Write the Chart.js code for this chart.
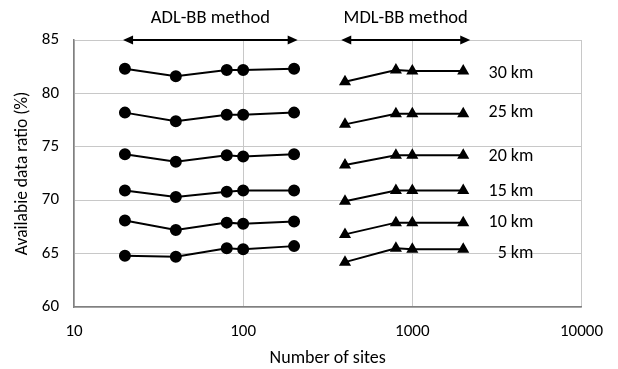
<!DOCTYPE html>
<html>
<head>
<meta charset="utf-8">
<script src="https://cdn.jsdelivr.net/npm/chart.js@4/dist/chart.umd.min.js"></script>
<style>
  html, body { margin: 0; padding: 0; background: #fff; }
  #wrap { width: 618px; height: 369px; position: relative; }
</style>
</head>
<body>
<div id="wrap"><canvas id="c" width="618" height="369"></canvas></div>
<script>
// ---- data ----
const sitesADL = [20, 40, 80, 100, 200];
const sitesMDL = [400, 800, 1000, 2000];
const distanceLabels = ['5 km', '10 km', '15 km', '20 km', '25 km', '30 km'];

const adl5  = [64.8, 64.7, 65.5, 65.4, 65.7];
const adl10 = [68.1, 67.2, 67.9, 67.8, 68.0];
const adl15 = [70.9, 70.3, 70.8, 70.9, 70.9];
const adl20 = [74.3, 73.6, 74.2, 74.1, 74.3];
const adl25 = [78.2, 77.4, 78.0, 78.0, 78.2];
const adl30 = [82.3, 81.6, 82.2, 82.2, 82.3];

const mdl5  = [64.2, 65.5, 65.4, 65.4];
const mdl10 = [66.8, 67.9, 67.9, 67.9];
const mdl15 = [69.9, 70.9, 70.9, 70.9];
const mdl20 = [73.3, 74.2, 74.2, 74.2];
const mdl25 = [77.1, 78.1, 78.1, 78.1];
const mdl30 = [81.1, 82.2, 82.1, 82.1];

const xTicks = [10, 100, 1000, 10000];
const methodLabels = ['ADL-BB method', 'MDL-BB method'];

const adlSeries = [adl5, adl10, adl15, adl20, adl25, adl30];
const mdlSeries = [mdl5, mdl10, mdl15, mdl20, mdl25, mdl30];

const FONT = '"Carlito", "Lato", "Open Sans", sans-serif';

function toPts(xs, ys) { return xs.map((x, i) => ({ x: x, y: ys[i] })); }

const datasets = [];
adlSeries.forEach((s, i) => datasets.push({
  label: 'ADL ' + distanceLabels[i], data: toPts(sitesADL, s),
  showLine: true, borderColor: '#000', backgroundColor: '#000', borderWidth: 2,
  pointStyle: 'circle', pointRadius: 5, pointHoverRadius: 5
}));
mdlSeries.forEach((s, i) => datasets.push({
  label: 'MDL ' + distanceLabels[i], data: toPts(sitesMDL, s),
  showLine: true, borderColor: '#000', backgroundColor: '#000', borderWidth: 2,
  pointStyle: 'triangle', pointRadius: 5, pointHoverRadius: 5
}));

const annot = {
  id: 'annot',
  afterDatasetsDraw(chart) {
    const ctx = chart.ctx;
    const xs = chart.scales.x, ys = chart.scales.y;
    ctx.save();
    // arrows with method labels
    const arrows = [[19.5, 210, methodLabels[0]], [380, 2200, methodLabels[1]]];
    const yA = ys.getPixelForValue(85);
    arrows.forEach(a => {
      const x1 = xs.getPixelForValue(a[0]), x2 = xs.getPixelForValue(a[1]);
      ctx.strokeStyle = '#000'; ctx.fillStyle = '#000'; ctx.lineWidth = 2;
      ctx.beginPath(); ctx.moveTo(x1 + 6, yA); ctx.lineTo(x2 - 6, yA); ctx.stroke();
      ctx.beginPath(); ctx.moveTo(x1, yA); ctx.lineTo(x1 + 10, yA - 4.5); ctx.lineTo(x1 + 10, yA + 4.5); ctx.closePath(); ctx.fill();
      ctx.beginPath(); ctx.moveTo(x2, yA); ctx.lineTo(x2 - 10, yA - 4.5); ctx.lineTo(x2 - 10, yA + 4.5); ctx.closePath(); ctx.fill();
      ctx.font = '18.5px ' + FONT; ctx.textAlign = 'center'; ctx.textBaseline = 'middle';
      ctx.fillText(a[2], (x1 + x2) / 2, 18);
    });
    // distance labels
    const anchors = [65.0, 67.9, 70.8, 74.1, 78.2, 81.9];
    ctx.font = '18px ' + FONT; ctx.textAlign = 'right'; ctx.textBaseline = 'middle'; ctx.fillStyle = '#000';
    distanceLabels.forEach((t, i) => {
      ctx.fillText(t, xs.getPixelForValue(5200), ys.getPixelForValue(anchors[i]));
    });
    ctx.restore();
  }
};

new Chart(document.getElementById('c'), {
  type: 'scatter',
  data: { datasets },
  options: {
    responsive: false, animation: false, devicePixelRatio: 1,
    layout: { padding: { top: 40, right: 35, left: 0, bottom: 0 } },
    plugins: { legend: { display: false }, tooltip: { enabled: false } },
    scales: {
      x: {
        type: 'logarithmic', min: 10, max: 10000,
        afterBuildTicks: s => { s.ticks = xTicks.map(v => ({ value: v })); },
        afterFit: s => { s.height = 62; },
        ticks: { color: '#000', font: { family: FONT, size: 17 }, padding: 15, callback: v => String(v), maxRotation: 0, autoSkip: false },
        grid: { color: '#c8c8c8', lineWidth: 1, drawTicks: false },
        border: { color: '#808080', width: 1.5 },
        title: { display: true, text: 'Number of sites', color: '#000', font: { family: FONT, size: 18 }, padding: { top: 1, bottom: 0 } }
      },
      y: {
        min: 60, max: 85,
        ticks: { stepSize: 5, color: '#000', font: { family: FONT, size: 17 }, padding: 15 },
        afterFit: s => { s.width = 74; },
        grid: { color: '#c8c8c8', lineWidth: 1, drawTicks: false },
        border: { color: '#808080', width: 1.5 },
        title: { display: true, text: 'Availabie data ratio (%)', color: '#000', font: { family: FONT, size: 17.5 }, padding: { top: 12, bottom: 0 } }
      }
    }
  },
  plugins: [annot]
});
</script>
</body>
</html>
